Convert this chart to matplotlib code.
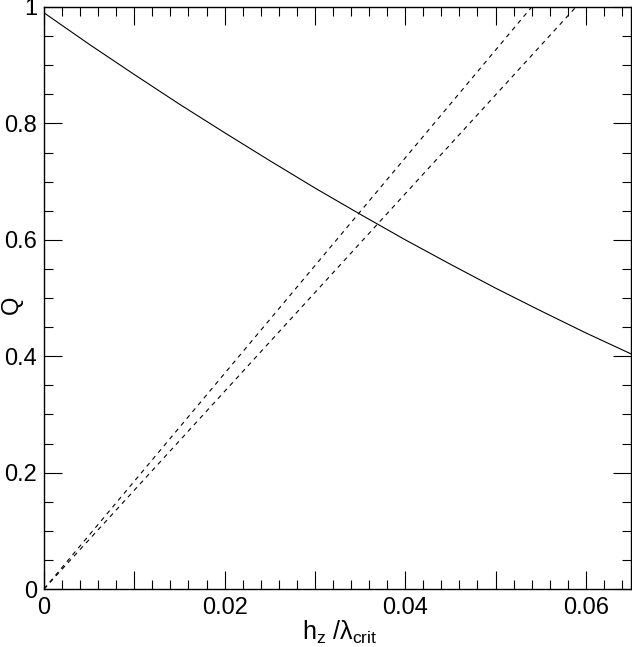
import matplotlib
matplotlib.use("Agg")
import matplotlib.pyplot as plt
from matplotlib.ticker import MultipleLocator, FuncFormatter

plt.rcParams['font.family'] = ['Liberation Sans', 'DejaVu Sans']
plt.rcParams['mathtext.fontset'] = 'custom'
plt.rcParams['mathtext.rm'] = 'Liberation Sans'
plt.rcParams['mathtext.it'] = 'Liberation Sans'

# Solid curve: Q vs h_z/lambda_crit
q_x = [0.0, 0.005, 0.010, 0.015, 0.020, 0.025, 0.030, 0.035, 0.040,
       0.045, 0.050, 0.055, 0.060, 0.065]
q_y = [0.990, 0.936, 0.884, 0.833, 0.784, 0.736, 0.689, 0.644, 0.600,
       0.558, 0.517, 0.478, 0.440, 0.404]

# Dashed straight lines through the origin
d1_x = [0.0, 0.0540]
d1_y = [0.0, 1.0]
d2_x = [0.0, 0.0589]
d2_y = [0.0, 1.0]

W, H = 632, 647
fig = plt.figure(figsize=(W/100, H/100), dpi=100)
ax = fig.add_axes([44/W, 58/H, 587/W, 582/H])

ax.plot(q_x, q_y, color='black', lw=0.8)
ax.plot(d1_x, d1_y, color='black', lw=0.8, ls=(0, (4, 4)))
ax.plot(d2_x, d2_y, color='black', lw=0.8, ls=(0, (4, 4)))

ax.set_xlim(0, 0.065)
ax.set_ylim(0, 1)

ax.xaxis.set_major_locator(MultipleLocator(0.01))
ax.xaxis.set_minor_locator(MultipleLocator(0.002))
ax.yaxis.set_major_locator(MultipleLocator(0.2))
ax.yaxis.set_minor_locator(MultipleLocator(0.05))

def xfmt(v, pos):
    k = round(v / 0.01)
    if k % 2 != 0:
        return ''
    if k == 0:
        return '0'
    return '%.2f' % v

def yfmt(v, pos):
    if abs(v) < 1e-9:
        return '0'
    if abs(v - 1) < 1e-9:
        return '1'
    return '%.1f' % v

ax.xaxis.set_major_formatter(FuncFormatter(xfmt))
ax.yaxis.set_major_formatter(FuncFormatter(yfmt))

ax.tick_params(which='both', direction='in', top=True, right=True,
               width=0.8, colors='black', labelsize=17)
ax.tick_params(which='major', length=13)
ax.tick_params(which='minor', length=6.5)
ax.tick_params(axis='x', which='major', pad=6)
ax.tick_params(axis='y', which='major', pad=5)

for s in ax.spines.values():
    s.set_linewidth(1.0)

fig.text(340/W, 1 - 632/H, r'$\mathrm{h_z\ /\lambda_{crit}}$', fontsize=18,
         ha='center', va='center')
fig.text(12/W, 1 - 305/H, 'Q', fontsize=17, rotation=90,
         ha='center', va='center')

fig.savefig('out.png', dpi=100)
